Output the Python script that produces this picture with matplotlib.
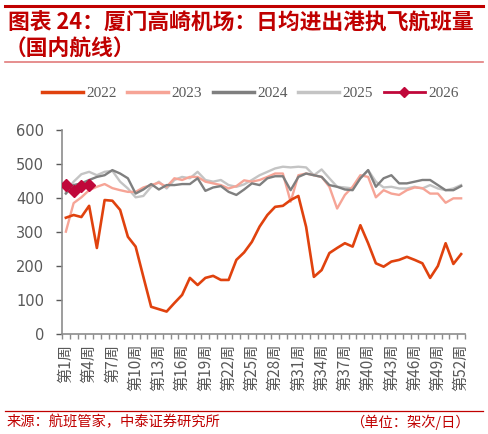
import matplotlib
matplotlib.use("Agg")
import matplotlib.pyplot as plt
from matplotlib.lines import Line2D
import numpy as np

plt.rcParams['font.family'] = ['Noto Sans CJK SC', 'DejaVu Sans']

weeks = list(range(1, 53))
tick_weeks = list(range(1, 53, 3))
tick_labels = [f"第{w}周" for w in tick_weeks]

s2022 = [342, 350, 344, 377, 253, 394, 392, 365, 286, 257,
         168, 80, 73, 66, 91, 115, 165, 144, 165, 171,
         159, 159, 218, 240, 271, 316, 350, 374, 377, 394,
         406, 315, 168, 188, 238, 253, 267, 257, 320, 267,
         208, 198, 213, 218, 227, 218, 208, 165, 200, 267,
         206, 235]
s2023 = [301, 385, 402, 423, 433, 441, 429, 423, 418, 418,
         431, 438, 445, 433, 458, 453, 462, 462, 448, 443,
         438, 428, 435, 452, 448, 453, 462, 472, 472, 389,
         467, 472, 467, 462, 433, 369, 409, 433, 467, 462,
         402, 423, 413, 409, 423, 431, 429, 413, 413, 386,
         399, 399]
s2024 = [413, 438, 443, 453, 462, 467, 482, 472, 458, 413,
         425, 441, 425, 438, 438, 441, 441, 458, 421, 431,
         435, 418, 409, 425, 443, 438, 458, 464, 464, 423,
         462, 472, 467, 462, 438, 433, 425, 423, 458, 482,
         433, 458, 467, 443, 443, 448, 453, 453, 438, 423,
         423, 435]
s2025 = [418, 448, 470, 477, 467, 477, 480, 448, 428, 402,
         406, 433, 448, 428, 453, 462, 458, 477, 453, 448,
         453, 438, 433, 440, 453, 467, 477, 487, 492, 490,
         492, 490, 467, 484, 458, 433, 431, 428, 458, 482,
         448, 431, 433, 428, 428, 433, 428, 438, 428, 423,
         428, 438]
s2026 = [438, 421, 435, 437]

series_names = ["2022", "2023", "2024", "2025", "2026"]
colors = ["#E0420E", "#F6A496", "#7F7F7F", "#C4C4C4", "#C0073A"]

fig = plt.figure(figsize=(4.88, 4.34), dpi=100)
ax = fig.add_axes([62/488, 1-334/434, (465-62)/488, (334-130)/434])

ax.plot(weeks, s2025, color=colors[3], lw=1.7, zorder=2)
ax.plot(weeks, s2024, color=colors[2], lw=1.7, zorder=3)
ax.plot(weeks, s2023, color=colors[1], lw=1.7, zorder=2.5)
ax.plot(weeks, s2022, color=colors[0], lw=1.9, zorder=4)
ax.plot(weeks[:len(s2026)], s2026, color=colors[4], lw=1.7, marker='D',
        markersize=6.5, zorder=5)

ax.set_xlim(0.5, 52.5)
ax.set_ylim(0, 600)
ax.set_yticks(range(0, 601, 100))
ax.tick_params(axis='y', colors='#595959', labelsize=10.5, length=4, width=1,
               direction='out', pad=9)
for t in ax.get_yticklabels():
    t.set_fontfamily(['DejaVu Sans'])
ax.set_xticks(tick_weeks)
ax.set_xticklabels(tick_labels, rotation=90, va='top', ha='center')
ax.tick_params(axis='x', colors='#595959', labelsize=11, length=0, pad=7)
ax.set_xticks(np.arange(0.5, 53, 1.0), minor=True)
ax.tick_params(axis='x', which='minor', length=3.5, width=1, color='#8C8C8C',
               direction='out')
for side in ['top', 'right']:
    ax.spines[side].set_visible(False)
for side in ['left', 'bottom']:
    ax.spines[side].set_color('#8C8C8C')
    ax.spines[side].set_linewidth(1.2)

# legend
handles = []
for i, n in enumerate(series_names):
    if n == "2026":
        handles.append(Line2D([], [], color=colors[i], lw=2, marker='D', markersize=5))
    else:
        handles.append(Line2D([], [], color=colors[i], lw=2.5))
leg = fig.legend(handles, series_names, loc='center', bbox_to_anchor=(250/488, 1-93/434),
                 ncol=5, frameon=False, handlelength=2.7, handletextpad=0.2,
                 columnspacing=0.7, prop={'family': 'Liberation Serif', 'size': 11})
for t in leg.get_texts():
    t.set_color('#595959')

# title and decorations
red = '#C00000'
fig.add_artist(Line2D([5/488, 483/488], [1-6/434, 1-6/434], color=red, lw=2.2))
fig.text(8/488, 1-23/434, "图表 24：厦门高崎机场：日均进出港执飞航班量", color=red,
         fontsize=15.7, fontweight='bold', style='italic', va='center', ha='left')
fig.text(5/488, 1-49/434, "（国内航线）", color=red,
         fontsize=15.7, fontweight='bold', style='italic', va='center', ha='left')
fig.add_artist(Line2D([5/488, 483/488], [1-62/434, 1-62/434], color='#E27B7B', lw=1.2))
fig.add_artist(Line2D([5/488, 483/488], [1-411/434, 1-411/434], color=red, lw=0.9))
fig.text(7/488, 1-422/434, "来源：航班管家，中泰证券研究所", color=red, fontsize=10.3,
         va='center', ha='left')
fig.text(470/488, 1-422/434, "（单位：架次/日）", color=red, fontsize=10.3,
         va='center', ha='right')

fig.savefig("out.png", dpi=100)
